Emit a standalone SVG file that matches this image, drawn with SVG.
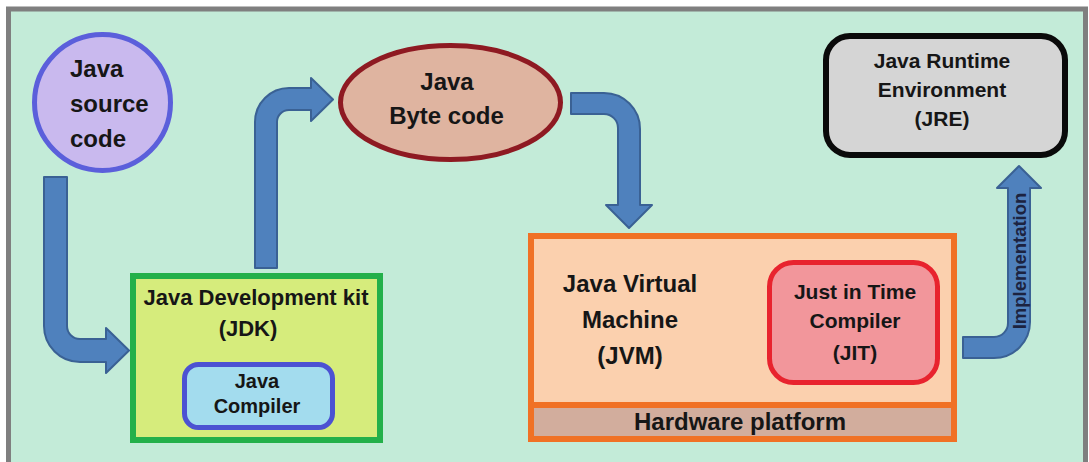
<svg xmlns="http://www.w3.org/2000/svg" width="1089" height="462" viewBox="0 0 1089 462">
<style>
.t{font-family:"Liberation Sans",Arial,sans-serif;font-weight:bold;fill:#161616;}
.c{text-anchor:middle;}
.arr{fill:#4f81bd;stroke:#3a6194;stroke-width:2;stroke-linejoin:round;}
</style>
<rect x="0" y="0" width="1089" height="462" fill="#ffffff"/>
<rect x="8.5" y="9" width="1077" height="470" fill="#c3ebd8" stroke="#7f7f7f" stroke-width="5"/>
<g id="connectors">
<path class="arr" d="M44,177 H67 V326 A13,13 0 0 0 80,339 H106 V328 L129,350.5 L106,373 V362 H80 A36,36 0 0 1 44,326 Z"/>
<path class="arr" d="M255,268 V122 A34,34 0 0 1 289,88 H311 V78 L333,99.5 L311,121 V110 H289 A12,12 0 0 0 277,122 V268 Z"/>
<path class="arr" d="M571,93 H604 A36,36 0 0 1 640,129 V205 H652 L629,228 L606,205 H618 V128 A14,14 0 0 0 604,114 H571 Z"/>
<path class="arr" d="M963,337 H994 A14,14 0 0 0 1008,323 V188 H997 L1019,166 L1041,188 H1030 V322 A36,36 0 0 1 994,358 H963 Z"/>
<text class="t c" transform="translate(1025.5,261) rotate(-90)" font-size="18.5" style="fill:#1c2340">Implementation</text>
</g>
<g id="source">
<circle cx="102.5" cy="102.5" r="68" fill="#c9b9ee" stroke="#5b5fdb" stroke-width="5"/>
<text class="t" x="70" y="77" font-size="24">Java</text>
<text class="t" x="70" y="112" font-size="24">source</text>
<text class="t" x="70" y="147" font-size="24">code</text>
</g>
<g id="bytecode">
<ellipse cx="450.5" cy="102.5" rx="110" ry="57" fill="#dfb4a0" stroke="#8e1a22" stroke-width="5"/>
<text class="t c" x="447" y="90" font-size="24">Java</text>
<text class="t c" x="446.5" y="124" font-size="24">Byte code</text>
</g>
<g id="jdk">
<rect x="133" y="276" width="247" height="164" fill="#d6ec7c" stroke="#23b04a" stroke-width="6"/>
<text class="t c" x="256" y="305" font-size="22">Java Development kit</text>
<text class="t c" x="248" y="336" font-size="22">(JDK)</text>
</g>
<g id="compiler">
<rect x="184.5" y="364.5" width="148" height="63" rx="14" fill="#a3dcee" stroke="#4c52d2" stroke-width="5"/>
<text class="t c" x="257" y="388" font-size="20">Java</text>
<text class="t c" x="257" y="413" font-size="20">Compiler</text>
</g>
<g id="jvm">
<rect x="531" y="236" width="423" height="203" fill="#fbd0ae" stroke="#f07125" stroke-width="6"/>
<rect x="534" y="405" width="417" height="31" fill="#d2ad9d"/>
<line x1="534" y1="405" x2="951" y2="405" stroke="#f07125" stroke-width="6"/>
<text class="t c" x="630" y="292" font-size="24">Java Virtual</text>
<text class="t c" x="630" y="328" font-size="24">Machine</text>
<text class="t c" x="630" y="364" font-size="24">(JVM)</text>
<text class="t c" x="740" y="430" font-size="24">Hardware platform</text>
</g>
<g id="jit">
<rect x="769.5" y="262.5" width="168" height="120" rx="24" fill="#f2969b" stroke="#e8232e" stroke-width="5"/>
<text class="t c" x="855" y="299" font-size="21">Just in Time</text>
<text class="t c" x="855" y="328" font-size="21">Compiler</text>
<text class="t c" x="855" y="360" font-size="21">(JIT)</text>
</g>
<g id="jre">
<rect x="826" y="36" width="239" height="119" rx="24" fill="#d5d5d5" stroke="#0a0a0a" stroke-width="6"/>
<text class="t c" x="942" y="68" font-size="21">Java Runtime</text>
<text class="t c" x="942" y="97" font-size="21">Environment</text>
<text class="t c" x="942" y="126" font-size="21">(JRE)</text>
</g>
</svg>
